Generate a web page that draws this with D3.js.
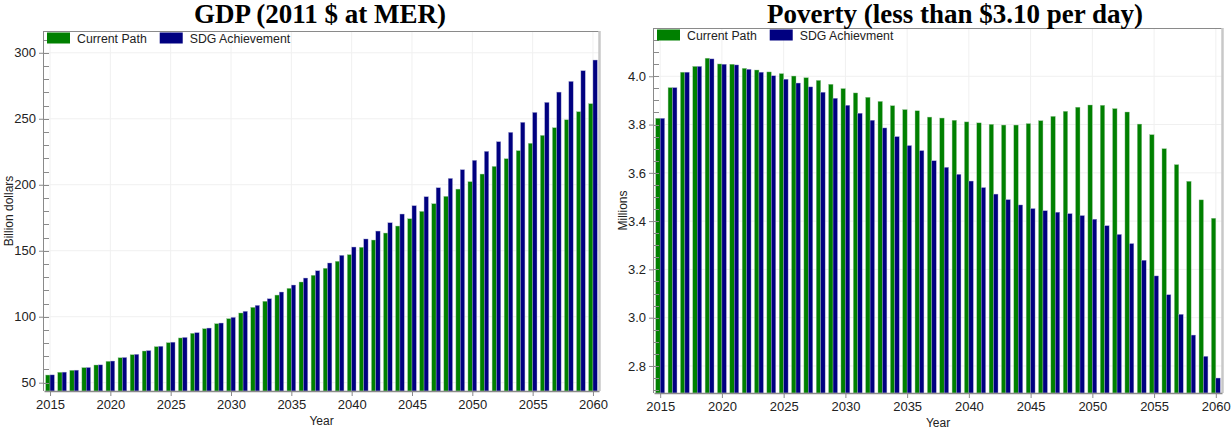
<!DOCTYPE html>
<html>
<head>
<meta charset="utf-8">
<script src="https://cdn.jsdelivr.net/npm/d3@7"></script>
<style>
    body { margin: 0; background: #fff; }
    svg { display: block; }
    .tick text { font-family: "Liberation Sans", Arial, sans-serif; }
</style>
</head>
<body>
<svg id="svg-main"></svg>
<script>
const YEARS = [2015, 2016, 2017, 2018, 2019, 2020, 2021, 2022, 2023, 2024, 2025, 2026, 2027, 2028, 2029, 2030,
    2031, 2032, 2033, 2034, 2035, 2036, 2037, 2038, 2039, 2040, 2041, 2042, 2043, 2044, 2045,
    2046, 2047, 2048, 2049, 2050, 2051, 2052, 2053, 2054, 2055, 2056, 2057, 2058, 2059, 2060];
const YEAR_TICKS = [2015, 2020, 2025, 2030, 2035, 2040, 2045, 2050, 2055, 2060];

// GDP, billion 2011 dollars at MER
const GDP_CURRENT = [55.8, 57.9, 59.4, 61.4, 63.4, 66.2, 68.9, 71.2, 74.0, 77.3, 80.3, 83.9, 87.4, 90.9, 94.7, 98.5,
    102.8, 107.1, 111.7, 116.4, 121.5, 126.3, 131.4, 136.7, 142.0, 147.0, 152.6, 158.1, 163.4, 168.7, 174.2,
    179.8, 185.6, 191.2, 196.7, 202.3, 208.1, 213.9, 219.7, 225.8, 231.4, 237.4, 243.2, 249.2, 255.3, 261.4];
const GDP_SDG = [55.9, 58.0, 59.5, 61.5, 63.5, 66.4, 69.1, 71.5, 74.3, 77.6, 80.7, 84.3, 87.9, 91.4, 95.2, 99.5,
    104.1, 108.6, 113.6, 118.7, 124.0, 129.3, 134.8, 140.7, 146.5, 152.8, 158.9, 164.9, 171.2, 177.8, 184.1,
    190.9, 197.7, 204.8, 211.4, 218.5, 225.3, 232.6, 239.7, 247.3, 254.8, 262.4, 270.2, 278.3, 286.4, 294.5];
const GDP_TICKS = [50, 100, 150, 200, 250, 300];

// Poverty, millions of people below $3.10 per day
const POV_CURRENT = [3.826, 3.953, 4.017, 4.041, 4.075, 4.051, 4.050, 4.033, 4.026, 4.018, 4.011, 4.001, 3.994, 3.983, 3.967, 3.949,
    3.931, 3.913, 3.896, 3.878, 3.862, 3.857, 3.831, 3.827, 3.818, 3.811, 3.807, 3.801, 3.798, 3.798, 3.804,
    3.816, 3.834, 3.855, 3.872, 3.881, 3.880, 3.866, 3.852, 3.802, 3.758, 3.700, 3.634, 3.565, 3.488, 3.412];
const POV_SDG = [3.826, 3.953, 4.017, 4.041, 4.072, 4.050, 4.047, 4.029, 4.017, 4.002, 3.988, 3.972, 3.956, 3.934, 3.909, 3.880,
    3.847, 3.818, 3.786, 3.750, 3.713, 3.692, 3.650, 3.623, 3.594, 3.566, 3.539, 3.512, 3.489, 3.467, 3.452,
    3.443, 3.437, 3.431, 3.423, 3.408, 3.381, 3.345, 3.307, 3.238, 3.173, 3.095, 3.014, 2.928, 2.840, 2.750];
const POV_TICKS = [2.8, 3.0, 3.2, 3.4, 3.6, 3.8, 4.0];

const COLOR_CURRENT = "#008000";
const COLOR_SDG = "#000080";
const AXIS_COLOR = "#8a8a8a";
const FONT = "'Liberation Sans', Arial, sans-serif";

var Dims = {
    Svg: { Width: 1231, Height: 432 },
    Gdp: { Left: 44, Right: 599, Top: 31, Bottom: 391 },
    Pov: { Left: 654, Right: 1222, Top: 28, Bottom: 393 }
};

var svg = d3.select("#svg-main")
    .attr("width", Dims.Svg.Width)
    .attr("height", Dims.Svg.Height);

drawChart({
    box: Dims.Gdp,
    title: "GDP (2011 $ at MER)",
    titleX: 320,
    yLabel: "Billion dollars",
    yLabelX: 9,
    yDomain: [43.7, 316.5],
    yTicks: GDP_TICKS,
    yMinorStep: 10,
    yFormat: d3.format("d"),
    current: GDP_CURRENT,
    sdg: GDP_SDG,
    legend: ["Current Path", "SDG Achievement"]
});

drawChart({
    box: Dims.Pov,
    title: "Poverty (less than $3.10 per day)",
    titleX: 955,
    yLabel: "Millions",
    yLabelX: 623,
    yDomain: [2.688, 4.2],
    yTicks: POV_TICKS,
    yMinorStep: 0.05,
    yFormat: d3.format(".1f"),
    current: POV_CURRENT,
    sdg: POV_SDG,
    legend: ["Current Path", "SDG Achievment"]
});

function drawChart(cfg) {
    var b = cfg.box;
    var x = d3.scaleLinear().domain([2014.5, 2060.5]).range([b.Left, b.Right]);
    var y = d3.scaleLinear().domain(cfg.yDomain).range([b.Bottom, b.Top]);
    var step = x(2016) - x(2015);
    var barW = step * 0.36;

    var g = svg.append("g");

    // faint grid
    g.append("g").selectAll("line.vgrid")
        .data(YEAR_TICKS)
        .enter().append("line")
        .attr("x1", d => x(d)).attr("x2", d => x(d))
        .attr("y1", b.Top).attr("y2", b.Bottom)
        .attr("stroke", "#f0f0f0");
    g.append("g").selectAll("line.hgrid")
        .data(cfg.yTicks)
        .enter().append("line")
        .attr("x1", b.Left).attr("x2", b.Right)
        .attr("y1", d => y(d)).attr("y2", d => y(d))
        .attr("stroke", "#f0f0f0");

    // bars
    var rows = YEARS.map((yr, i) => ({ year: yr, cur: cfg.current[i], sdg: cfg.sdg[i] }));
    g.append("g").selectAll("rect")
        .data(rows)
        .enter().append("rect")
        .attr("x", d => x(d.year) - barW)
        .attr("y", d => y(d.cur))
        .attr("width", barW)
        .attr("height", d => b.Bottom - y(d.cur))
        .attr("fill", COLOR_CURRENT)
        .attr("stroke", "#9cc79c")
        .attr("stroke-width", 0.4);
    g.append("g").selectAll("rect")
        .data(rows)
        .enter().append("rect")
        .attr("x", d => x(d.year))
        .attr("y", d => y(d.sdg))
        .attr("width", barW)
        .attr("height", d => b.Bottom - y(d.sdg))
        .attr("fill", COLOR_SDG)
        .attr("stroke", "#a6a6d0")
        .attr("stroke-width", 0.4);

    // frame
    g.append("line")
        .attr("x1", b.Left).attr("x2", b.Right)
        .attr("y1", b.Top + 0.5).attr("y2", b.Top + 0.5)
        .attr("stroke", AXIS_COLOR);
    g.append("line")
        .attr("x1", b.Right + 0.5).attr("x2", b.Right + 0.5)
        .attr("y1", b.Top).attr("y2", b.Bottom)
        .attr("stroke", "#c8c8c8")
        .attr("stroke-width", 2.5);

    // y axis
    var yAxis = g.append("g")
        .attr("transform", `translate(${b.Left},0)`)
        .call(d3.axisLeft(y).tickValues(cfg.yTicks).tickFormat(cfg.yFormat).tickSize(5).tickPadding(3).tickSizeOuter(0));
    yAxis.select(".domain").remove();
    yAxis.selectAll(".tick line").attr("stroke", AXIS_COLOR);
    yAxis.selectAll(".tick text").attr("font-size", 13).attr("fill", "#222").attr("font-family", FONT);

    var minor = d3.range(Math.ceil(cfg.yDomain[0] / cfg.yMinorStep), Math.floor(cfg.yDomain[1] / cfg.yMinorStep) + 1)
        .map(k => +(k * cfg.yMinorStep).toFixed(3));
    g.append("g").selectAll("line")
        .data(minor)
        .enter().append("line")
        .attr("x1", b.Left).attr("x2", b.Left + 5)
        .attr("y1", d => Math.round(y(d)) + 0.5).attr("y2", d => Math.round(y(d)) + 0.5)
        .attr("stroke", AXIS_COLOR);

    g.append("line")
        .attr("x1", b.Left - 0.5).attr("x2", b.Left - 0.5)
        .attr("y1", b.Top).attr("y2", b.Bottom)
        .attr("stroke", AXIS_COLOR);

    // x axis
    var xAxis = g.append("g")
        .attr("transform", `translate(0,${b.Bottom})`)
        .call(d3.axisBottom(x).tickValues(YEAR_TICKS).tickFormat(d3.format("d")).tickSize(5).tickPadding(4).tickSizeOuter(0));
    xAxis.select(".domain").attr("stroke", AXIS_COLOR).attr("stroke-width", 1.5);
    xAxis.selectAll(".tick line").attr("stroke", AXIS_COLOR);
    xAxis.selectAll(".tick text").attr("font-size", 13).attr("fill", "#222").attr("font-family", FONT);

    g.append("text")
        .attr("x", (b.Left + b.Right) / 2)
        .attr("y", b.Bottom + 34)
        .attr("text-anchor", "middle")
        .attr("font-family", FONT)
        .attr("font-size", 12)
        .attr("fill", "#222")
        .text("Year");

    g.append("text")
        .attr("transform", `translate(${cfg.yLabelX},${(b.Top + b.Bottom) / 2}) rotate(-90)`)
        .attr("text-anchor", "middle")
        .attr("dy", "0.35em")
        .attr("font-family", FONT)
        .attr("font-size", 12)
        .attr("fill", "#222")
        .text(cfg.yLabel);

    // title
    g.append("text")
        .attr("x", cfg.titleX)
        .attr("y", 23)
        .attr("text-anchor", "middle")
        .attr("font-family", "'Liberation Serif', 'Times New Roman', serif")
        .attr("font-weight", "bold")
        .attr("font-size", 27)
        .attr("fill", "#000")
        .text(cfg.title);

    // legend
    var leg = g.append("g").attr("transform", `translate(${b.Left + 3},${b.Top + 1})`);
    var items = [
        { label: cfg.legend[0], color: COLOR_CURRENT },
        { label: cfg.legend[1], color: COLOR_SDG }
    ];
    var offset = 0;
    items.forEach(function (it) {
        leg.append("rect")
            .attr("x", offset).attr("y", 0.5)
            .attr("width", 23).attr("height", 11)
            .attr("fill", it.color);
        var t = leg.append("text")
            .attr("x", offset + 30).attr("y", 10.5)
            .attr("font-family", FONT)
            .attr("font-size", 12.3)
            .attr("fill", "#222")
            .text(it.label);
        offset += 30 + t.node().getComputedTextLength() + 13;
    });
}
</script>
</body>
</html>
